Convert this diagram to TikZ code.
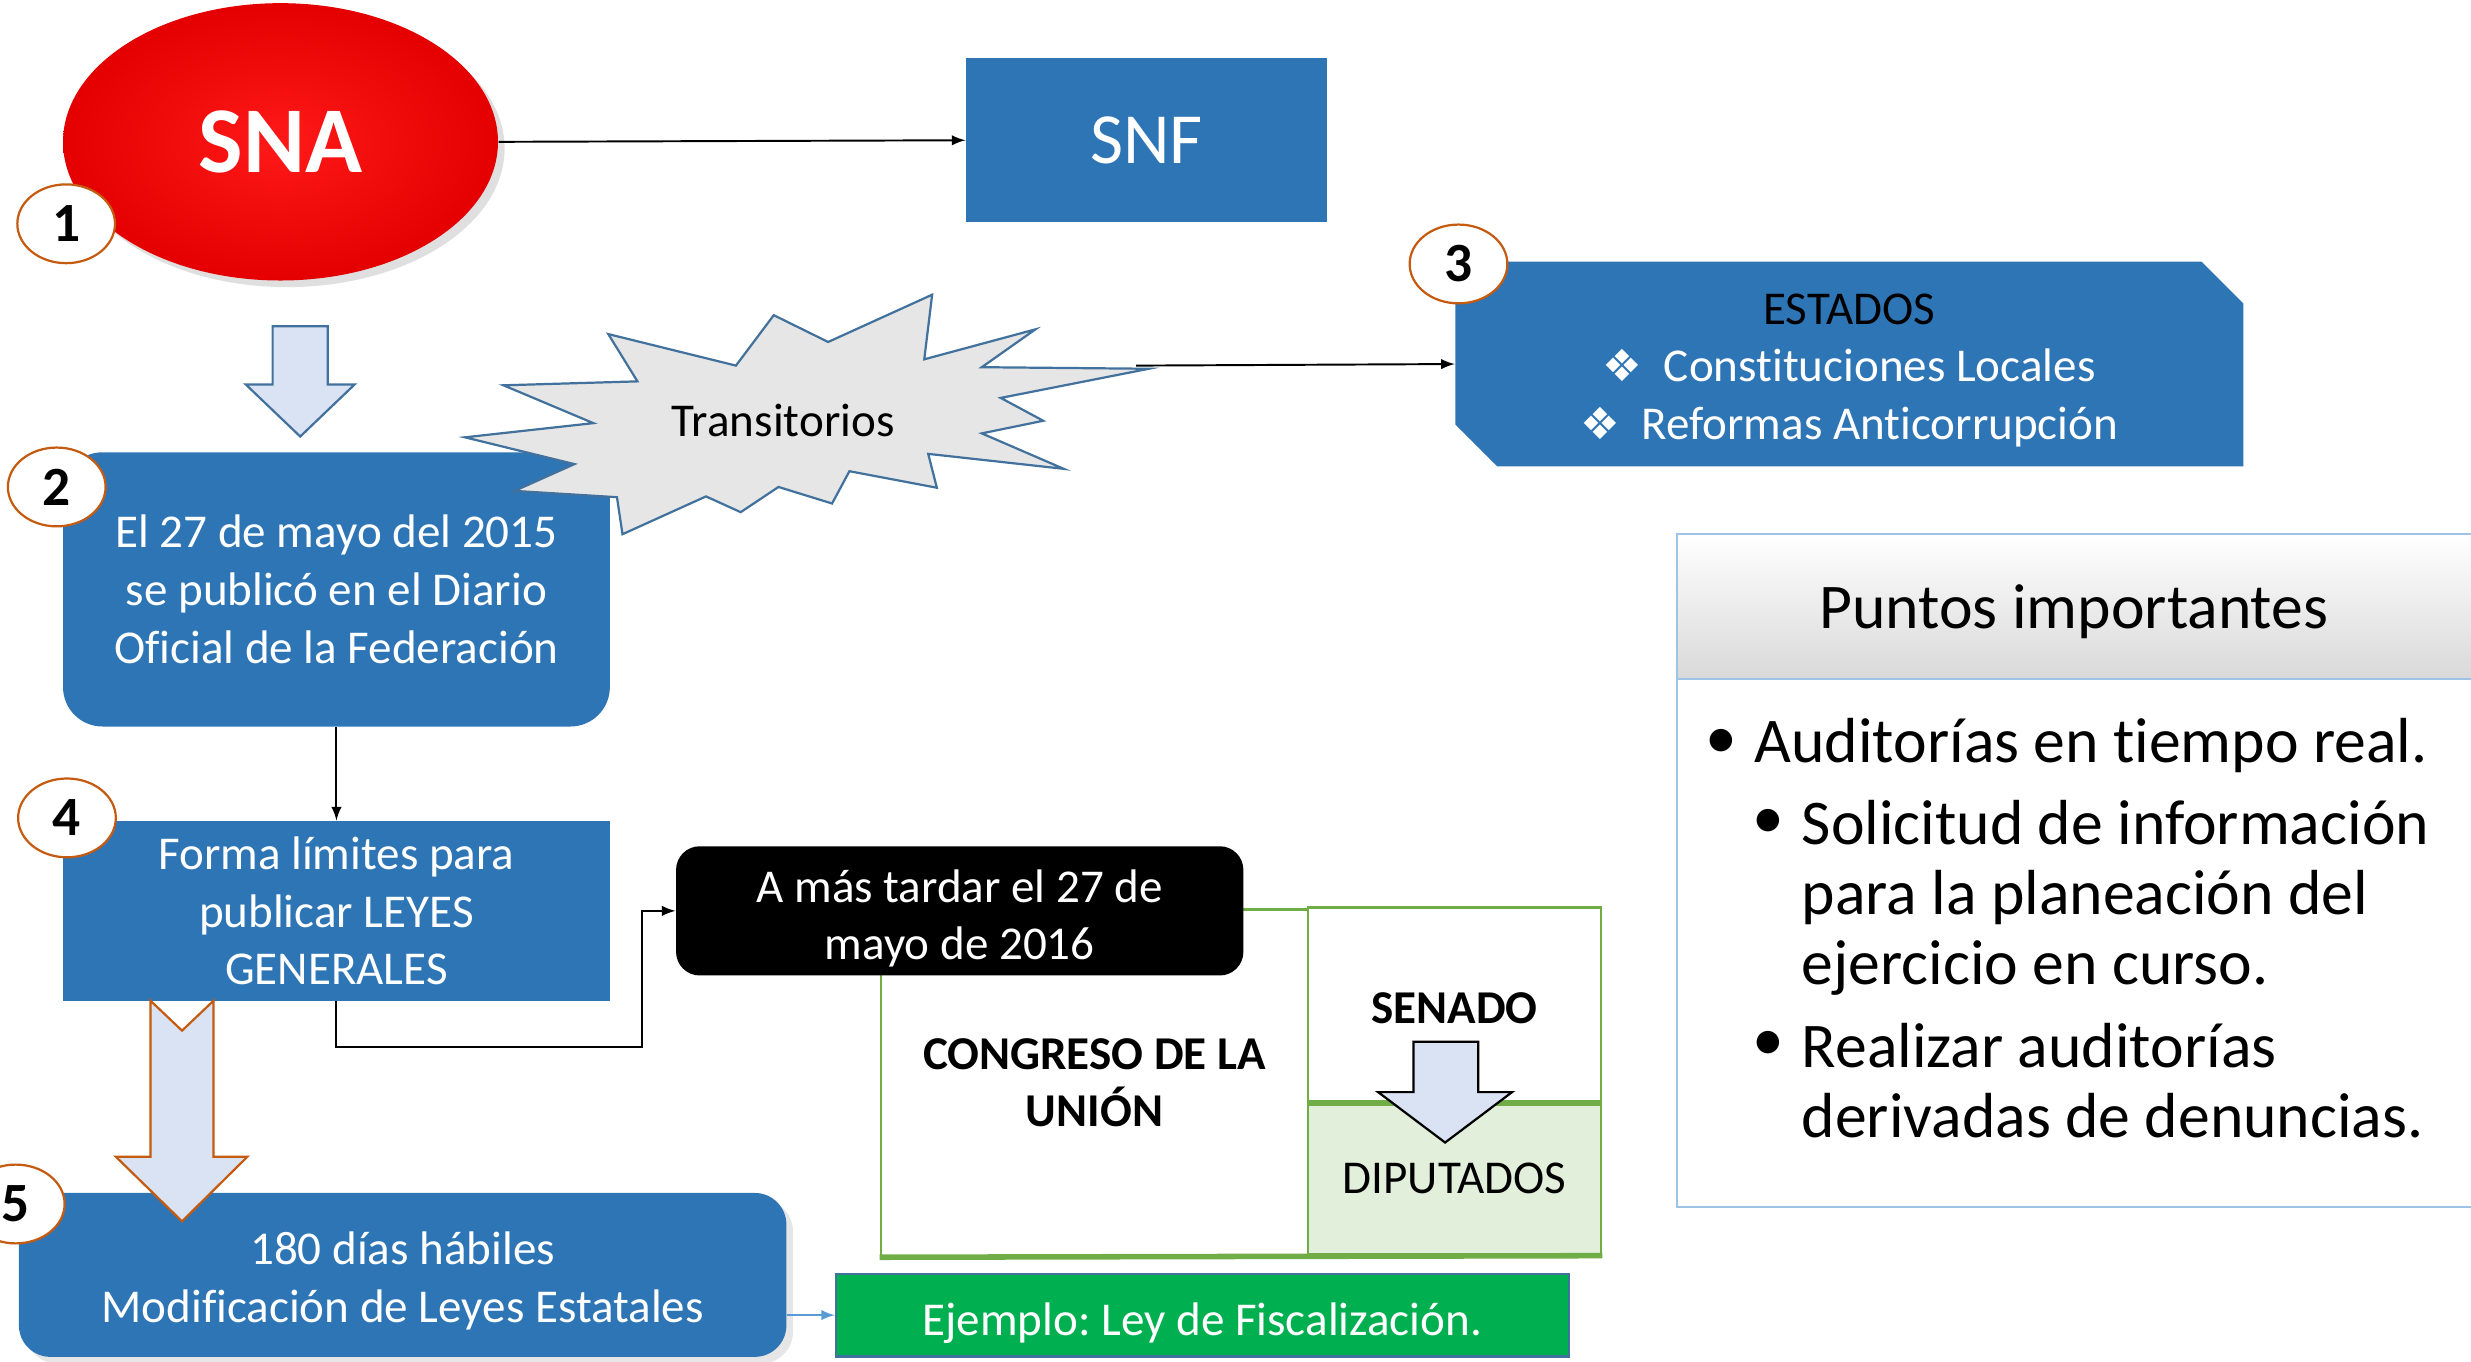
\documentclass[tikz,border=0pt]{standalone}
\usepackage{fontspec}
\setmainfont{Carlito}[Ligatures=NoCommon]
\newfontfamily\simbolos{DejaVu Sans}
\frenchspacing
\usetikzlibrary{shapes.geometric,shapes.misc,shadows}
\definecolor{azul}{RGB}{46,117,182}
\definecolor{bordeazul}{RGB}{65,113,156}
\definecolor{celeste}{RGB}{218,227,243}
\definecolor{cafe}{RGB}{197,90,17}
\definecolor{gris}{RGB}{231,230,230}
\definecolor{verde}{RGB}{112,173,71}
\definecolor{verdeclaro}{RGB}{226,239,218}
\definecolor{verdefuerte}{RGB}{0,176,80}
\definecolor{lineaazul}{RGB}{157,195,230}
\definecolor{flechaazul}{RGB}{91,155,213}
\definecolor{rojoclaro}{RGB}{255,25,25}
\definecolor{rojooscuro}{RGB}{228,0,0}
\newcommand{\alto}[1]{\rule{0pt}{#1}}
\newcommand{\rombo}{{\simbolos\fontsize{16}{18}\selectfont ❖}}
\begin{document}
\begin{tikzpicture}[x=0.2mm, y=-0.2mm,
    texto/.style = {font=\fontsize{17}{20.8}\selectfont},
    negrita/.style = {font=\bfseries\fontsize{17}{20.8}\selectfont},
    caja/.style = {texto, rectangle, fill=azul, text=white, align=center, inner sep=0pt},
    insignia/.style = {ellipse, draw=cafe, line width=0.8pt, fill=white, minimum width=12.4mm, minimum height=10mm, inner sep=0pt, font=\bfseries\fontsize{20}{24}\selectfont},
    flecha/.style = {-latex, line width=0.7pt},
    bloque/.style = {fill=celeste, line width=0.8pt},
    marco/.style = {rectangle, draw=verde, line width=0.9pt, inner sep=0pt, align=center},
    lista/.style = {font=\fontsize{23}{25.3}\selectfont, inner sep=0pt, align=left}]

    \useasboundingbox (0,0) rectangle (1568,864);

    \node[caja, minimum width=45.8mm, minimum height=20.8mm, font=\fontsize{26}{30}\selectfont] (snf) at (727.5,89) {SNF};
    \node[ellipse, minimum width=55.2mm, minimum height=35.2mm, inner sep=0pt, shading=radial, inner color=rojoclaro, outer color=rojooscuro, drop shadow={opacity=0.25}, text=white, font=\bfseries\fontsize{34}{40}\selectfont] (sna) at (178,90) {SNA};
    \draw[flecha] (sna.east) -- (snf.west);
    \node[insignia] (b1) at (42,142) {1};

    \draw[bloque, draw=bordeazul] (173,207) -- (208,207) -- (208,244) -- (225,244) -- (190.5,277) -- (156,244) -- (173,244) -- cycle;

    \node[caja, rounded corners=5mm, minimum width=69.4mm, minimum height=34.8mm] (pub) at (213.5,374) {El 27 de mayo del 2015\\se publicó en el Diario\\Oficial de la Federación};
    \draw[draw=bordeazul, fill=gris, line width=0.8pt] (386,212) -- (467,232) -- (491,200) -- (525.5,217) -- (591.5,187) -- (586.5,228) -- (657,209) -- (623,233) -- (729,234) -- (635,252.5) -- (662,267) -- (623,275) -- (675,297.5) -- (589,288) -- (594.5,309.5) -- (539,299) -- (528,319.5) -- (494,309) -- (470,325) -- (448,315) -- (395,339) -- (391.5,315.5) -- (326.5,311.5) -- (364.5,294.5) -- (295,277.5) -- (376.5,268.5) -- (319.5,244.5) -- (404.5,242) -- cycle;
    \node[texto] (trans) at (497,267) {Transitorios};
    \coordinate (punta) at (721,232);
    \node[insignia] (b2) at (36,309) {2};

    \node[caja, chamfered rectangle, chamfered rectangle corners={north east,south west}, chamfered rectangle xsep=4.2mm, minimum width=100mm, minimum height=26mm] (estados) at (1173.5,231) {\alto{15.5pt}\textcolor{black}{ESTADOS}\\\rombo~~Constituciones Locales\\\rombo~~Reformas Anticorrupción};
    \draw[flecha] (punta) -- (estados.west);
    \node[insignia] (b3) at (925.5,167.5) {3};

    \path[draw=lineaazul, line width=0.8pt, top color=white, bottom color=black!15] (1064,339) rectangle (1600,431);
    \draw[lineaazul, line width=0.8pt] (1064,431) rectangle (1600,766);
    \node[font=\fontsize{23}{27}\selectfont] (titulo) at (1316,388) {Puntos importantes};
    \node[lista] (v1) at (1092,472) {•};
    \node[lista, anchor=west] (p1) at (1113,473) {Auditorías en tiempo real.};
    \node[lista] (v2) at (1122,523) {•};
    \node[lista, anchor=west] (p2) at (1143,569.5) {Solicitud de información\\para la planeación del\\ejercicio en curso.};
    \node[lista] (v3) at (1122,664) {•};
    \node[lista, anchor=west] (p3) at (1143,686) {Realizar auditorías\\derivadas de denuncias.};

    \node[caja, minimum width=69.4mm, minimum height=22.8mm] (forma) at (213.5,578) {Forma límites para\\publicar LEYES\\GENERALES};
    \draw[flecha] (pub.south) -- (forma.north);
    \node[insignia] (b4) at (42.5,519) {4};

    \node[marco, negrita, minimum width=54.2mm, minimum height=44mm] (congreso) at (694.5,687) {CONGRESO DE LA\\UNIÓN};
    \node[marco, negrita, minimum width=37.2mm, minimum height=24.6mm] (senado) at (923,637.5) {\alto{14pt}SENADO};
    \node[marco, texto, fill=verdeclaro, minimum width=37.2mm, minimum height=19.4mm] (diputados) at (923,747.5) {DIPUTADOS};
    \draw[verde, line width=2pt] (senado.south west) -- (senado.south east);
    \draw[verde, line width=2pt] (congreso.south west) -- (diputados.south east);
    \node[caja, fill=black, rounded corners=3mm, minimum width=72mm, minimum height=16.4mm] (tardar) at (609,578) {\alto{17.4pt}A más tardar el 27 de\\mayo de 2016};
    \draw[flecha] (forma.south) |- ++(194,29) |- (tardar.west);
    \draw[bloque, draw=black] (897,661) -- (938,661) -- (938,693) -- (959.5,693) -- (917,725) -- (874.5,693) -- (897,693) -- cycle;

    \node[caja, rounded corners=4mm, minimum width=97.4mm, minimum height=20.8mm, drop shadow={opacity=0.2}] (estatales) at (255.5,809) {\alto{16.2pt}180 días hábiles\\Modificación de Leyes Estatales};
    \draw[bloque, draw=cafe] (95.5,635) -- (115.5,654) -- (135.5,635) -- (135.5,734) -- (157,734) -- (115.5,775) -- (73.5,734) -- (95.5,734) -- cycle;
    \node[insignia] (b5) at (10,764) {5};
    \node[caja, fill=verdefuerte, draw=bordeazul, line width=0.8pt, minimum width=93mm, minimum height=10.5mm] (ejemplo) at (763,834.5) {\alto{17.4pt}Ejemplo: Ley de Fiscalización.};
    \draw[flecha, flechaazul] (ejemplo.west -| estatales.east) -- (ejemplo.west);
\end{tikzpicture}
\end{document}
